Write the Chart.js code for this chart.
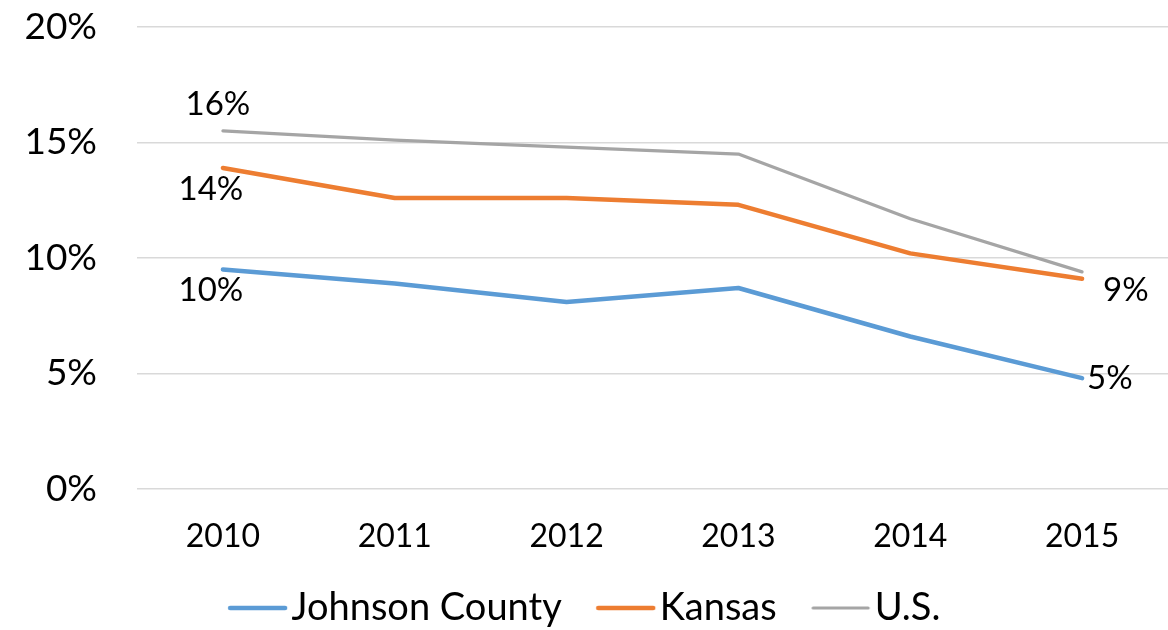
<!DOCTYPE html>
<html>
<head>
<meta charset="utf-8">
<script src="https://cdn.jsdelivr.net/npm/chart.js@4"></script>
<style>
  html, body { margin: 0; padding: 0; background: #fff; }
  #wrap { width: 1168px; height: 630px; }
</style>
</head>
<body>
<div id="wrap"><canvas id="chart"></canvas></div>
<script>
// Years on the x axis
const years = ['2010', '2011', '2012', '2013', '2014', '2015'];

// Rates in percent
const johnsonCounty = [9.5, 8.9, 8.1, 8.7, 6.6, 4.8];
const kansas = [13.9, 12.6, 12.6, 12.3, 10.2, 9.1];
const usRate = [15.5, 15.1, 14.8, 14.5, 11.7, 9.4];

// Data labels shown on the chart: [dataset, index, text, position]
const pointLabels = [
  [0, 0, '10%', 'below'],
  [0, 5, '5%', 'right'],
  [1, 0, '14%', 'below'],
  [1, 5, '9%', 'rightBelow'],
  [2, 0, '16%', 'above']
];

const FONT = 'Lato, Carlito, Calibri, sans-serif';

// Line swatch for the legend; the line sits on the right of the image so it ends next to the text
function legendSwatch(color, width) {
  const c = document.createElement('canvas');
  c.width = 80;
  c.height = 8;
  const g = c.getContext('2d');
  g.strokeStyle = color;
  g.lineWidth = width;
  g.lineCap = 'round';
  g.beginPath();
  g.moveTo(20, 4);
  g.lineTo(75, 4);
  g.stroke();
  return c;
}

// Draw the few value labels next to the line ends
const labelPlugin = {
  id: 'pointLabels',
  afterDatasetsDraw(chart) {
    const ctx = chart.ctx;
    ctx.save();
    ctx.font = '33px ' + FONT;
    ctx.fillStyle = '#000';
    ctx.textBaseline = 'middle';
    pointLabels.forEach(([ds, i, text, pos]) => {
      const pt = chart.getDatasetMeta(ds).data[i];
      let x = pt.x, y = pt.y;
      if (pos === 'below') { ctx.textAlign = 'center'; x -= 12; y += 21; }
      else if (pos === 'above') { ctx.textAlign = 'center'; x -= 5; y -= 27; }
      else if (pos === 'right') { ctx.textAlign = 'left'; x += 5; y += 0; }
      else if (pos === 'rightBelow') { ctx.textAlign = 'left'; x += 21; y += 12; }
      ctx.fillText(text, x, y);
    });
    ctx.restore();
  }
};

new Chart(document.getElementById('chart'), {
  type: 'line',
  data: {
    labels: years,
    datasets: [
      { label: 'Johnson County', data: johnsonCounty, borderColor: '#5b9bd5', backgroundColor: '#5b9bd5', borderWidth: 4.5 },
      { label: 'Kansas', data: kansas, borderColor: '#ed7d31', backgroundColor: '#ed7d31', borderWidth: 4.5 },
      { label: 'U.S.', data: usRate, borderColor: '#a5a5a5', backgroundColor: '#a5a5a5', borderWidth: 3.2 }
    ]
  },
  options: {
    responsive: true,
    maintainAspectRatio: false,
    animation: false,
    elements: {
      point: { radius: 0, hoverRadius: 0 },
      line: { tension: 0, borderCapStyle: 'round', borderJoinStyle: 'round' }
    },
    layout: { padding: { top: 27, right: 0, left: 0, bottom: -7 } },
    scales: {
      x: {
        offset: true,
        afterFit(scale) { scale.height = 66; },
        grid: { display: false, drawTicks: false },
        border: { display: false },
        ticks: { color: '#000', font: { family: FONT, size: 32 }, padding: 28, maxRotation: 0 }
      },
      y: {
        min: 0,
        max: 20,
        // fixed width, and drop the extra top/bottom room the tick padding adds
        afterFit(scale) {
          scale.width = 137;
          scale.paddingTop = 0;
          scale.paddingBottom = 0;
        },
        grid: { color: '#d9d9d9', lineWidth: 1.5, drawTicks: false },
        border: { display: false },
        ticks: {
          stepSize: 5,
          color: '#000',
          padding: 40,
          font: { family: FONT, size: 37 },
          callback: v => v + '%'
        }
      }
    },
    plugins: {
      tooltip: { enabled: false },
      legend: {
        position: 'bottom',
        labels: {
          color: '#000',
          font: { family: FONT, size: 38 },
          usePointStyle: true,
          pointStyleWidth: 45,
          padding: 34,
          generateLabels(chart) {
            return chart.data.datasets.map((d, i) => ({
              text: d.label,
              fillStyle: d.borderColor,
              strokeStyle: d.borderColor,
              lineWidth: 0,
              pointStyle: legendSwatch(d.borderColor, d.borderWidth),
              datasetIndex: i,
              fontColor: '#000'
            }));
          }
        }
      }
    }
  },
  plugins: [labelPlugin]
});
</script>
</body>
</html>
